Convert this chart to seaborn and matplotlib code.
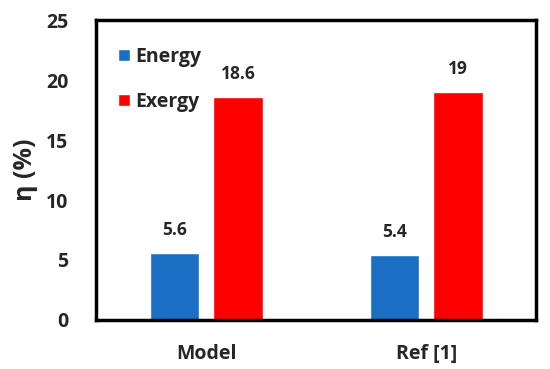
import matplotlib; matplotlib.use('Agg')
import matplotlib.pyplot as plt
import seaborn as sns
import pandas as pd

categories = ['Model', 'Ref [1]']
energy = [5.6, 5.4]
exergy = [18.6, 19]
series_names = ['Energy', 'Exergy']
colors = ['#1a6fc4', '#ff0000']

df = pd.DataFrame({
    'case': categories * 2,
    'kind': [series_names[0]] * 2 + [series_names[1]] * 2,
    'eta': energy + exergy,
})

sns.set_theme(style='white')
plt.rcParams['font.family'] = ['Open Sans', 'DejaVu Sans']
plt.rcParams['font.weight'] = 'bold'

fig, ax = plt.subplots(figsize=(5.5, 3.69), dpi=100)
plt.subplots_adjust(left=0.175, right=0.975, top=0.945, bottom=0.133)
sns.barplot(data=df, x='case', y='eta', hue='kind', palette=colors,
            width=0.575, gap=0.22, saturation=1, ax=ax)

for cont in ax.containers:
    ax.bar_label(cont, labels=[f'{v:g}' for v in cont.datavalues],
                 padding=10, fontsize=12.5, fontweight='bold')

ax.set_xlim(-0.5, 1.5)
ax.set_ylim(0, 25)
ax.set_yticks([0, 5, 10, 15, 20, 25])
ax.set_xlabel('')
ax.set_ylabel('η (%)', fontsize=18, fontweight='bold', labelpad=6)
ax.tick_params(axis='y', labelsize=14, length=0, pad=20)
ax.tick_params(axis='x', labelsize=14, length=0, pad=17)
for lab in ax.get_xticklabels() + ax.get_yticklabels():
    lab.set_fontweight('bold')
for sp in ax.spines.values():
    sp.set_visible(True)
    sp.set_color('black')
    sp.set_linewidth(2.5)
    sp.set_zorder(10)

leg = ax.legend(loc='upper left', frameon=False, fontsize=14,
                handlelength=0.6, handleheight=0.6, handletextpad=0.3,
                labelspacing=1.3, bbox_to_anchor=(0.01, 0.97))
for t in leg.get_texts():
    t.set_fontweight('bold')

plt.savefig('out.png', dpi=100)
